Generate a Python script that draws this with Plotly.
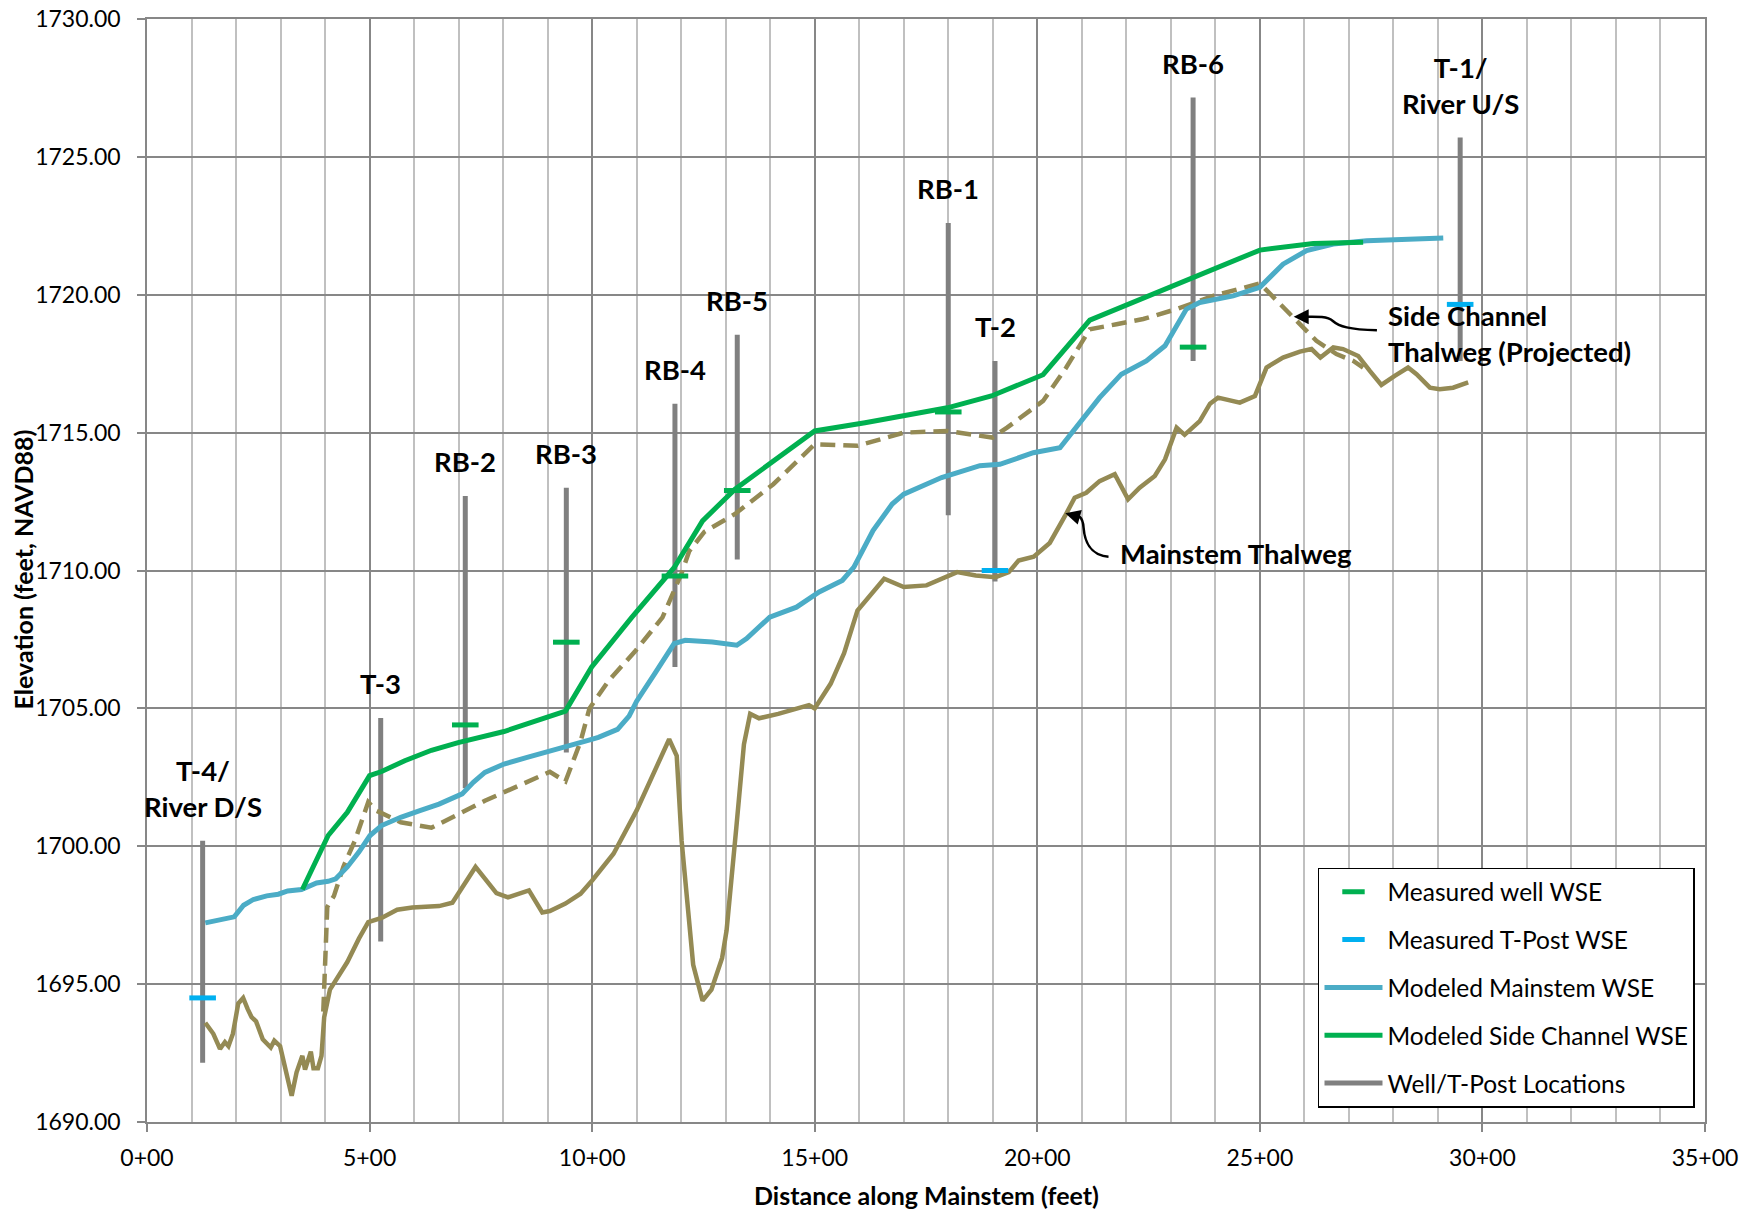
import plotly.graph_objects as go

# ---- Mainstem thalweg profile (station in ft, elevation ft NAVD88) ----
thalweg_sta = [131, 149, 164, 175, 183, 193, 205, 216, 226, 235, 245, 260, 278, 286, 299,
               312, 325, 336, 349, 355, 368, 374, 384, 392, 398, 411, 424, 450, 476, 497,
               527, 562, 596, 656, 686, 738, 785, 811, 858, 888, 905, 940, 974, 1000, 1048,
               1100, 1173, 1190, 1201, 1227, 1248, 1268, 1292, 1302, 1324, 1341, 1355, 1375,
               1418, 1453, 1487, 1500, 1536, 1566, 1596, 1656, 1700, 1751, 1820, 1862, 1906,
               1936, 1958, 1992, 2028, 2062, 2084, 2110, 2140, 2174, 2204, 2230, 2264, 2287,
               2313, 2331, 2365, 2388, 2406, 2455, 2489, 2515, 2552, 2590, 2616, 2636, 2665,
               2687, 2721, 2747, 2773, 2803, 2833, 2852, 2882, 2904, 2934, 2968]
thalweg_elev = [1693.6, 1693.2, 1692.65, 1692.9, 1692.75, 1693.2, 1694.3, 1694.5, 1694.1,
                1693.8, 1693.65, 1693.0, 1692.7, 1692.95, 1692.75, 1691.8, 1690.95, 1691.8,
                1692.4, 1691.9, 1692.55, 1691.95, 1691.95, 1692.4, 1693.8, 1694.8, 1695.15,
                1695.8, 1696.65, 1697.25, 1697.4, 1697.7, 1697.78, 1697.83, 1697.95, 1699.25,
                1698.3, 1698.15, 1698.4, 1697.6, 1697.65, 1697.92, 1698.28, 1698.76, 1699.73,
                1701.3, 1703.88, 1703.28, 1700.2, 1695.7, 1694.4, 1694.8, 1695.95, 1696.95,
                1700.7, 1703.7, 1704.8, 1704.64, 1704.8, 1704.95, 1705.12, 1705.0, 1705.9,
                1707.0, 1708.55, 1709.7, 1709.4, 1709.46, 1709.94, 1709.82, 1709.76, 1709.94,
                1710.36, 1710.5, 1711.0, 1711.97, 1712.64, 1712.82, 1713.24, 1713.49, 1712.58,
                1713.0, 1713.43, 1714.03, 1715.18, 1714.92, 1715.42, 1716.05, 1716.27, 1716.09,
                1716.33, 1717.36, 1717.72, 1717.94, 1718.03, 1717.72, 1718.09, 1718.03, 1717.78,
                1717.24, 1716.73, 1717.06, 1717.36, 1717.12, 1716.63, 1716.57, 1716.63, 1716.82]

# ---- Side channel thalweg, projected onto mainstem stationing ----
side_thalweg_sta = [396, 405, 420, 441, 467, 497, 514, 570, 639, 665, 708, 759, 802, 880, 905,
                    940, 974, 994, 1037, 1098, 1158, 1201, 1218, 1252, 1321, 1407, 1500, 1596,
                    1700, 1798, 1899, 1932, 2013, 2065, 2118, 2178, 2238, 2313, 2395, 2500,
                    2530, 2575, 2627, 2672, 2710, 2732]
side_thalweg_elev = [1694.0, 1697.8, 1698.2, 1699.25, 1700.2, 1701.6, 1701.3, 1700.87, 1700.67,
                     1700.87, 1701.23, 1701.65, 1701.95, 1702.5, 1702.7, 1702.35, 1703.8,
                     1705.0, 1706.0, 1707.1, 1708.3, 1709.9, 1710.7, 1711.4, 1712.05, 1713.13,
                     1714.58, 1714.52, 1715.0, 1715.06, 1714.82, 1715.18, 1716.15, 1717.36,
                     1718.75, 1718.93, 1719.12, 1719.48, 1719.96, 1720.41, 1719.9, 1719.18,
                     1718.33, 1717.85, 1717.6, 1717.36]

# ---- Modeled water surface elevations ----
mainstem_wse_sta = [131, 153, 196, 217, 239, 269, 295, 316, 347, 381, 407, 424, 450, 476, 501,
                    527, 570, 613, 656, 708, 733, 759, 802, 854, 897, 940, 991, 1014, 1057,
                    1083, 1100, 1141, 1184, 1209, 1270, 1325, 1347, 1399, 1459, 1510, 1562,
                    1588, 1631, 1674, 1700, 1785, 1871, 1916, 1991, 2051, 2099, 2140, 2189,
                    2245, 2287, 2335, 2365, 2440, 2500, 2552, 2605, 2665, 2740, 2912]
mainstem_wse_elev = [1697.22, 1697.3, 1697.44, 1697.86, 1698.07, 1698.2, 1698.26, 1698.38,
                     1698.43, 1698.67, 1698.73, 1698.82, 1699.25, 1699.79, 1700.39, 1700.75,
                     1701.05, 1701.29, 1701.53, 1701.9, 1702.32, 1702.68, 1702.98, 1703.22,
                     1703.4, 1703.58, 1703.84, 1703.95, 1704.24, 1704.72, 1705.26, 1706.27,
                     1707.35, 1707.47, 1707.41, 1707.29, 1707.53, 1708.31, 1708.67, 1709.22,
                     1709.64, 1710.12, 1711.45, 1712.41, 1712.77, 1713.37, 1713.8, 1713.85,
                     1714.27, 1714.45, 1715.42, 1716.27, 1717.12, 1717.6, 1718.15, 1719.48,
                     1719.72, 1719.96, 1720.27, 1721.11, 1721.6, 1721.84, 1721.96, 1722.06]

side_wse_sta = [349, 407, 450, 500, 527, 579, 639, 699, 802, 871, 940, 999, 1089, 1184, 1248,
                1321, 1407, 1500, 1613, 1700, 1798, 1897, 2013, 2118, 2500, 2620, 2732]
side_wse_elev = [1698.43, 1700.39, 1701.23, 1702.56, 1702.71, 1703.1, 1703.48, 1703.76,
                 1704.16, 1704.54, 1704.9, 1706.5, 1708.3, 1710.1, 1711.8, 1712.95, 1713.98,
                 1715.06, 1715.36, 1715.6, 1715.9, 1716.33, 1717.1, 1719.08, 1721.62,
                 1721.86, 1721.9]

# ---- Monitoring wells and T-posts ----
well_names = ["T-4/<br>River D/S", "T-3", "RB-2", "RB-3", "RB-4", "RB-5", "RB-1", "T-2",
              "RB-6", "T-1/<br>River U/S"]
well_sta = [125, 525, 715, 942, 1186, 1326, 1800, 1905, 2350, 2950]
well_top = [1700.2, 1704.65, 1712.7, 1713.0, 1716.05, 1718.55, 1722.6, 1717.6, 1727.15, 1725.7]
well_bottom = [1692.15, 1696.55, 1702.1, 1703.4, 1706.5, 1710.4, 1712.0, 1709.6, 1717.6, 1717.6]

well_meas_sta = [715, 942, 1186, 1326, 1800, 2350]
well_meas_wse = [1704.4, 1707.4, 1709.8, 1712.9, 1715.75, 1718.1]
tpost_meas_sta = [125, 1905, 2950]
tpost_meas_wse = [1694.5, 1710.0, 1719.65]

x_tick_vals = [0, 500, 1000, 1500, 2000, 2500, 3000, 3500]
x_tick_text = ["0+00", "5+00", "10+00", "15+00", "20+00", "25+00", "30+00", "35+00"]

FONT = "Lato, 'Open Sans', sans-serif"
OLIVE = "#948A54"
BLUE = "#4BACC6"
GREEN = "#00B050"
TBLUE = "#00B0F0"
GRAY = "#808080"
LABEL_SIZE = 27.5
TICK_SIZE = 23

fig = go.Figure()

# vertical well / T-post extents as one broken line
loc_x, loc_y = [], []
for s, t, b in zip(well_sta, well_top, well_bottom):
    loc_x += [s, s, None]
    loc_y += [b, t, None]
fig.add_trace(go.Scatter(x=loc_x, y=loc_y, mode="lines", name="Well/T-Post Locations",
                         line=dict(color=GRAY, width=5), legendrank=5,
                         legendgroup="g5", hoverinfo="skip"))

fig.add_trace(go.Scatter(x=thalweg_sta, y=thalweg_elev, mode="lines", name="Mainstem Thalweg",
                         line=dict(color=OLIVE, width=4.5), showlegend=False))
fig.add_trace(go.Scatter(x=side_thalweg_sta, y=side_thalweg_elev, mode="lines",
                         name="Side Channel Thalweg (Projected)",
                         line=dict(color=OLIVE, width=4.5, dash="15px,8px"), showlegend=False))
fig.add_trace(go.Scatter(x=mainstem_wse_sta, y=mainstem_wse_elev, mode="lines",
                         name="Modeled Mainstem WSE", line=dict(color=BLUE, width=5),
                         legendrank=3, legendgroup="g3"))
fig.add_trace(go.Scatter(x=side_wse_sta, y=side_wse_elev, mode="lines",
                         name="Modeled Side Channel WSE", line=dict(color=GREEN, width=5),
                         legendrank=4, legendgroup="g4"))
fig.add_trace(go.Scatter(x=well_meas_sta, y=well_meas_wse, mode="markers",
                         name="Measured well WSE",
                         marker=dict(symbol="line-ew", size=19,
                                     line=dict(color=GREEN, width=5)),
                         legendrank=1, legendgroup="g1"))
fig.add_trace(go.Scatter(x=tpost_meas_sta, y=tpost_meas_wse, mode="markers",
                         name="Measured T-Post WSE",
                         marker=dict(symbol="line-ew", size=19,
                                     line=dict(color=TBLUE, width=5)),
                         legendrank=2, legendgroup="g2"))

annotations = []
# station labels above each well / T-post
for name, s, t in zip(well_names, well_sta, well_top):
    off = 1.88 if "<br>" in name else 1.25
    annotations.append(dict(x=s, y=t + off, xref="x", yref="y", text=name, showarrow=False,
                            xanchor="center", yanchor="middle",
                            font=dict(family=FONT, size=LABEL_SIZE, color="black",
                                      weight="bold")))

# thalweg call-outs
annotations.append(dict(x=2181, y=1710.63, xref="x", yref="y", text="Mainstem Thalweg",
                        showarrow=False, xanchor="left", yanchor="middle",
                        font=dict(family=FONT, size=LABEL_SIZE, color="black", weight="bold")))
annotations.append(dict(x=2784, y=1718.6, xref="x", yref="y",
                        text="Side Channel<br>Thalweg (Projected)", align="left",
                        showarrow=False, xanchor="left", yanchor="middle",
                        font=dict(family=FONT, size=LABEL_SIZE, color="black", weight="bold")))
# arrow heads at the call-out tips
annotations.append(dict(x=2063, y=1712.08, ax=2085, ay=1711.98, xref="x", yref="y",
                        axref="x", ayref="y", text="", showarrow=True, arrowhead=2,
                        arrowsize=1.2, arrowwidth=2.5, arrowcolor="black", standoff=0))
annotations.append(dict(x=2576, y=1719.2, ax=2610, ay=1719.2, xref="x", yref="y",
                        axref="x", ayref="y", text="", showarrow=True, arrowhead=2,
                        arrowsize=1.2, arrowwidth=2.5, arrowcolor="black", standoff=0))

# axis titles
annotations.append(dict(x=0.5, y=-0.0666, xref="paper", yref="paper",
                        text="Distance along Mainstem (feet)", showarrow=False,
                        xanchor="center", yanchor="middle",
                        font=dict(family=FONT, size=25, color="black", weight="bold")))
annotations.append(dict(x=-0.0796, y=0.5009, xref="paper", yref="paper",
                        text="Elevation (feet, NAVD88)", showarrow=False, textangle=-90,
                        xanchor="center", yanchor="middle",
                        font=dict(family=FONT, size=25, color="black", weight="bold")))

# curved leader lines for the call-outs
shapes = [
    dict(type="path", xref="x", yref="y",
         path="M 2160,1710.50 C 2118,1710.55 2106,1711.1 2104,1711.55 S 2092,1712.0 2072,1712.05",
         line=dict(color="black", width=2.5)),
    dict(type="path", xref="x", yref="y",
         path="M 2763,1718.71 C 2700,1718.74 2678,1718.85 2664,1719.05 S 2620,1719.2 2590,1719.2",
         line=dict(color="black", width=2.5)),
]

fig.update_layout(
    width=1756, height=1214,
    margin=dict(l=147, r=51, t=19, b=92),
    paper_bgcolor="white", plot_bgcolor="white",
    font=dict(family=FONT, size=TICK_SIZE, color="black"),
    showlegend=True,
    legend=dict(x=0.7516, y=0.2305, xanchor="left", yanchor="top", bgcolor="white",
                bordercolor="black", borderwidth=1.5, font=dict(family=FONT, size=24.5),
                tracegroupgap=13, itemwidth=58),
    annotations=annotations,
    shapes=shapes,
)

fig.update_xaxes(range=[0, 3500], tickvals=x_tick_vals, ticktext=x_tick_text,
                 showgrid=True, gridcolor="#878787", gridwidth=1.5,
                 minor=dict(dtick=100, showgrid=True, gridcolor="#C0C0C0", gridwidth=1.5),
                 showline=True, linecolor="#878787", linewidth=1.5, mirror=True,
                 ticks="outside", ticklen=8, tickcolor="#878787", tickwidth=1.5,
                 zeroline=False, automargin=False, ticklabelstandoff=7,
                 tickfont=dict(size=TICK_SIZE))
fig.update_yaxes(range=[1690, 1730], dtick=5, tickformat=".2f",
                 showgrid=True, gridcolor="#878787", gridwidth=1.5,
                 showline=True, linecolor="#878787", linewidth=1.5, mirror=True,
                 ticks="outside", ticklen=8, tickcolor="#878787", tickwidth=1.5,
                 zeroline=False, automargin=False, ticklabelstandoff=12,
                 tickfont=dict(size=TICK_SIZE))

fig.write_html("out.html")
